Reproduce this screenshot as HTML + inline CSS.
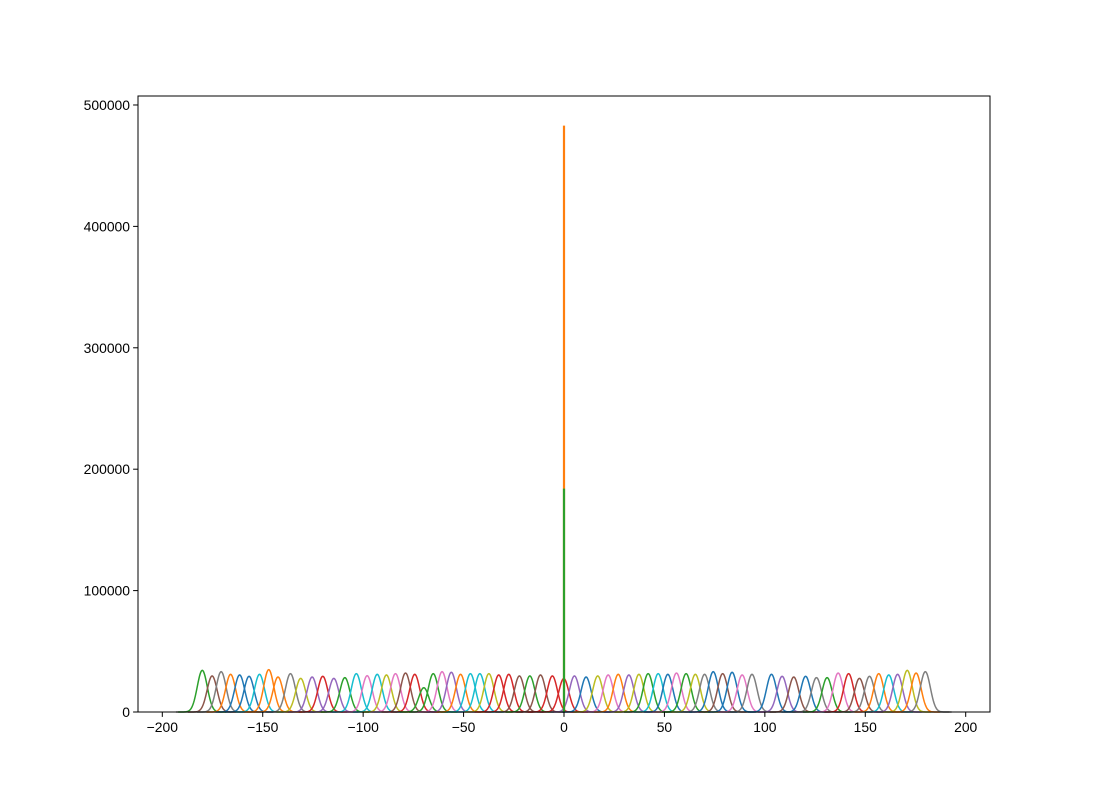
<!DOCTYPE html>
<html><head><meta charset="utf-8"><style>
html,body{margin:0;padding:0;background:#fff;}
svg text{font-family:"Liberation Sans","DejaVu Sans",sans-serif;font-size:13.9px;fill:#000;}
</style></head><body>
<svg id="chart" width="1100" height="800" xmlns="http://www.w3.org/2000/svg">
<rect x="0" y="0" width="1100" height="800" fill="#fff"/>
<g id="plot"></g>
<g id="axes"></g>
</svg>
<script>
const peakCenters = [-180.1,-175.2,-170.7,-166,-161.5,-156.8,-151.6,-147,-142.4,-136.2,-131.1,-125.4,-120.1,-114.6,-109.1,-103.4,-98,-93,-88.4,-83.9,-78.9,-74.3,-69.8,-65.1,-60.7,-56.1,-51.5,-46.6,-41.9,-37.4,-32.5,-27.5,-22.2,-17,-11.7,-5.8,-0.1,
5.2,11,16.8,22,27,32.3,37.3,41.9,46.9,51.7,56,60.8,65.4,70,74.3,79,83.7,88.7,93.6,103.3,108.6,114.4,120.3,125.7,131,136.5,141.7,147.1,152.1,156.7,161.7,166.1,170.9,175.3,179.9];
const peakHeights = [34300,29700,33200,31000,30500,29400,31000,34900,28800,31600,27700,28800,29400,27700,28300,31600,29900,31000,30500,31600,32100,31000,20000,31600,33200,32700,31000,31600,31600,31600,30500,31000,29700,29700,30500,29700,27500,
29700,28800,29700,30500,31000,30500,31000,31600,31600,31000,32100,31600,31000,31000,33200,31600,32700,30500,31000,31000,29400,28800,29400,28300,28300,32100,31600,27700,29400,31600,30500,31000,34300,32100,33200];
const spikeValues = [483000, 184000];
const xTicks = [-200,-150,-100,-50,0,50,100,150,200];
const yTicks = [0,100000,200000,300000,400000,500000];
const xTickLabels = ["\u2212200","\u2212150","\u2212100","\u221250","0","50","100","150","200"];
const yTickLabels = ["0","100000","200000","300000","400000","500000"];

const C={blue:"#1f77b4",orange:"#ff7f0e",green:"#2ca02c",red:"#d62728",purple:"#9467bd",brown:"#8c564b",pink:"#e377c2",gray:"#7f7f7f",olive:"#bcbd22",cyan:"#17becf"};
const colorNames=["green","brown","gray","orange","blue","blue","cyan","orange","orange","gray","olive","purple","red","purple","green","cyan","pink","cyan","olive","pink","brown","red","green","green","pink","purple","orange","cyan","cyan","olive","red","red","brown","green","brown","red","red",
"purple","blue","olive","pink","orange","purple","olive","green","cyan","blue","pink","green","olive","gray","blue","brown","blue","pink","gray","blue","purple","brown","blue","gray","green","pink","red","brown","gray","orange","cyan","purple","olive","orange","gray"];

const L=138,R=990,T=96,B=712;
const xmin=-212.1,xmax=212.1,ymin=0,ymax=507400;
const xs=v=>L+(v-xmin)/(xmax-xmin)*(R-L);
const ys=v=>B-(v-ymin)/(ymax-ymin)*(B-T);
const NS="http://www.w3.org/2000/svg";
const plot=document.getElementById('plot'), axes=document.getElementById('axes');
function mk(tag,attrs,parent){const e=document.createElementNS(NS,tag);for(const k in attrs)e.setAttribute(k,attrs[k]);parent.appendChild(e);return e;}

const base=mk('line',{x1:xs(-193.2),x2:xs(193),y1:ys(0),y2:ys(0),stroke:C.gray,'stroke-width':1.5},plot);



const sigma=2.5;
peakCenters.forEach((c,i)=>{
  let d="";
  for(let x=c-12;x<=c+12.001;x+=0.25){
    const y=peakHeights[i]*Math.exp(-((x-c)*(x-c))/(2*sigma*sigma));
    d+=(d?"L":"M")+xs(x).toFixed(2)+","+ys(y).toFixed(2);
  }
  const p=mk('path',{d:d,fill:"none",stroke:C[colorNames[i]]||C.blue,'stroke-width':1.5},plot);
  
  
});
const spikeColors=[C.orange,C.green];
spikeValues.forEach((v,i)=>{
  const s=mk('line',{x1:xs(0),x2:xs(0),y1:ys(0),y2:ys(v),stroke:spikeColors[i],'stroke-width':2.2},plot);
  
  
});

const fr=mk('rect',{x:L,y:T,width:R-L,height:B-T,fill:"none",stroke:"#000",'stroke-width':1},axes);



xTicks.forEach((v,i)=>{
  const x=xs(v);
  const t=mk('line',{x1:x,x2:x,y1:B,y2:B+4.9,stroke:"#000",'stroke-width':1},axes);
  
  
  const tx=mk('text',{x:x,y:B+20,'text-anchor':'middle'},axes);
  tx.textContent=xTickLabels[i];
  
  
});
yTicks.forEach((v,i)=>{
  const y=ys(v);
  const t=mk('line',{x1:L-4.9,x2:L,y1:y,y2:y,stroke:"#000",'stroke-width':1},axes);
  
  
  const tx=mk('text',{x:L-8,y:y+5,'text-anchor':'end'},axes);
  tx.textContent=yTickLabels[i];
  
  
});
</script>
</body></html>
